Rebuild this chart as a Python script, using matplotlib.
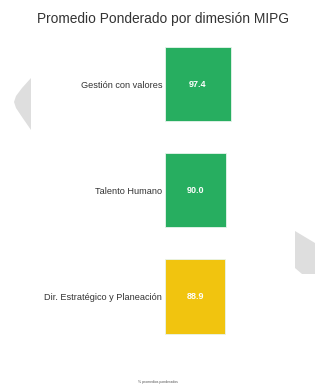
import matplotlib.pyplot as plt
from matplotlib.patches import Polygon

plt.rcParams['font.family'] = ['Liberation Sans', 'DejaVu Sans']

dimensiones = ['Gestión con valores', 'Talento Humano', 'Dir. Estratégico y Planeación']
promedios = [97.4, 90.0, 88.9]
colores = ['#27ae60', '#27ae60', '#f1c40f']

fig = plt.figure(figsize=(3.15, 3.86), dpi=100)

# formas grises decorativas del fondo
fig.patches.append(Polygon([(31/315, 1-78/386), (22/315, 1-88/386), (16/315, 1-96/386),
                            (14/315, 1-102/386), (16/315, 1-108/386), (22/315, 1-117/386),
                            (31/315, 1-130/386)],
                           closed=True, transform=fig.transFigure, fc='#dedede', ec='none'))
fig.patches.append(Polygon([(295/315, 1-231/386), (315/315, 1-243/386), (315/315, 1-274/386),
                            (302/315, 1-274/386), (295/315, 1-268/386)],
                           closed=True, transform=fig.transFigure, fc='#dedede', ec='none'))

ax = fig.add_axes([165/315, 1-349.5/386, 135/315, 318.5/386])
ax.patch.set_alpha(0)
y = range(len(dimensiones))
ax.barh(y, promedios, height=0.7, color=colores, edgecolor='#e8f5ec', linewidth=0.6)
for i, v in enumerate(promedios):
    ax.text(v/2, i, f'{v:.1f}', ha='center', va='center', color='white',
            fontsize=6.5, fontweight='bold')
ax.set_xlim(0, 200)
ax.set_ylim(2.5, -0.5)
ax.set_yticks(list(y))
ax.set_yticklabels(dimensiones, fontsize=6.6, color='#333333')
ax.tick_params(axis='y', length=0, pad=2)
ax.set_xticks([])
for s in ax.spines.values():
    s.set_visible(False)

fig.text(163/315, 1-19/386, 'Promedio Ponderado por dimesión MIPG', ha='center', va='center',
         fontsize=9.9, color='#333333')
fig.text(0.5, 1-382/386, '% promedios ponderados', ha='center', va='center',
         fontsize=2.5, color='#555555')

fig.savefig('out.png', dpi=100)
